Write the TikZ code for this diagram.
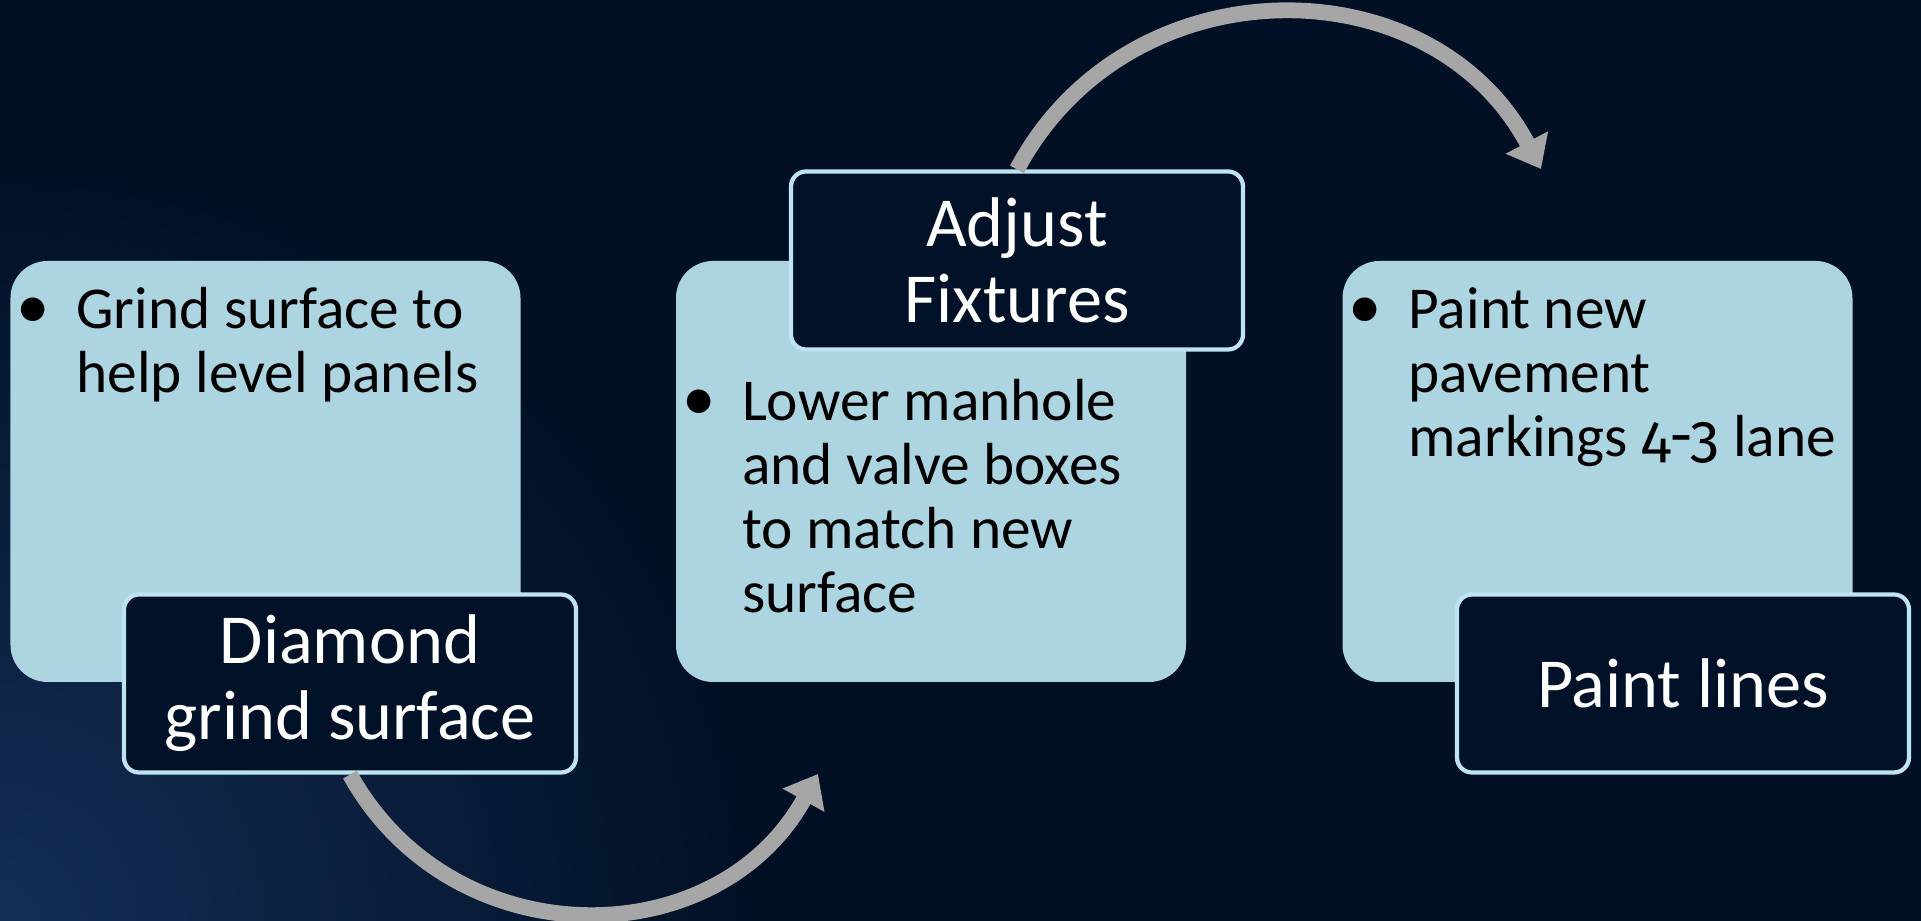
\documentclass[tikz,border=0pt]{standalone}
\usepackage{fontspec}
\setmainfont{Carlito}
\newfontfamily\oldnum{Fira Sans}[Numbers=OldStyle]
\usetikzlibrary{positioning,arrows.meta}

\definecolor{slidebg}{RGB}{1,16,37}
\definecolor{titlefill}{RGB}{1,18,40}
\definecolor{titleline}{RGB}{190,228,242}
\definecolor{notefill}{RGB}{173,213,225}
\definecolor{flowgray}{RGB}{166,166,166}
\definecolor{glow}{RGB}{20,46,86}

\newcommand\notebullet{{\fontsize{19}{18}\selectfont•}}

\begin{document}
\begin{tikzpicture}[
  notebox/.style={fill=notefill,rounded corners=0.37cm,minimum width=5.1cm,minimum height=4.21cm,inner sep=0pt},
  notetext/.style={inner sep=0pt,text=black,font=\fontsize{16.9}{18.3}\selectfont},
  titlebox/.style={draw=titleline,line width=1.2pt,fill=titlefill,rounded corners=0.15cm,minimum width=4.52cm,minimum height=1.78cm,align=center,text=white,font=\fontsize{20}{21.6}\selectfont},
  flow/.style={draw=flowgray,line width=4.5pt,-{Triangle[width=0.46cm,length=0.3cm]}}
]
  \useasboundingbox (0,0) rectangle (19.21,9.21);
  \fill[slidebg] (0,0) rectangle (19.21,9.21);
  \begin{scope}
    \clip (0,0) rectangle (19.21,9.21);
    \shade[inner color=glow,outer color=slidebg] (0,0) circle (7.5);
  \end{scope}

  % light boxes with the bullet notes
  \foreach \n/\x in {grindbox/2.655,fixbox/9.31,paintbox/15.975}
    \node[notebox] (\n) at (\x,4.495) {};

  \node[notetext,below right=0.22cm and 0.06cm of grindbox.north west] (grindnote)
    {\begin{tabular}{@{}p{0.6cm}@{}l@{}}\notebullet & Grind surface to\\ & help level panels\end{tabular}};
  \node[notetext,below right=1.14cm and 0.06cm of fixbox.north west] (fixnote)
    {\begin{tabular}{@{}p{0.6cm}@{}l@{}}\notebullet & Lower manhole\\ & and valve boxes\\ & to match new\\ & surface\end{tabular}};
  \node[notetext,below right=0.22cm and 0.06cm of paintbox.north west] (paintnote)
    {\begin{tabular}{@{}p{0.6cm}@{}l@{}}\notebullet & Paint new\\ & pavement\\ & markings {\oldnum 4-3} lane\end{tabular}};

  % step titles
  \node[titlebox] (grind) at (3.50,2.375) {Diamond\\grind surface};
  \node[titlebox] (fixtures) at (10.17,6.605) {Adjust\\Fixtures};
  \node[titlebox] (paint) at (16.83,2.375) {Paint lines};

  % curved arrows
  \coordinate (fixin) at (8.18,1.47);
  \coordinate (paintin) at (15.41,7.52);
  \draw[flow] (grind.south) to[out=-61,in=241,looseness=1.15] (fixin);
  \draw[flow] (fixtures.north) to[out=62,in=118,looseness=1.15] (paintin);

\end{tikzpicture}
\end{document}
